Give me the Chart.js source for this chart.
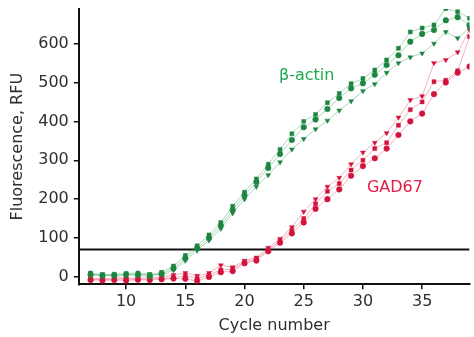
<!DOCTYPE html>
<html>
<head>
<meta charset="utf-8">
<script src="https://cdn.jsdelivr.net/npm/chart.js@4/dist/chart.umd.min.js"></script>
<style>
  html, body { margin: 0; padding: 0; background: #fff; }
  #wrap { width: 474px; height: 337px; position: relative; }
</style>
</head>
<body>
<div id="wrap"><canvas id="qpcr"></canvas></div>
<script>
// qPCR amplification curves: beta-actin vs GAD67, three replicates each

const cycles = [7, 8, 9, 10, 11, 12, 13, 14, 15, 16, 17, 18, 19, 20, 21, 22, 23,
                24, 25, 26, 27, 28, 29, 30, 31, 32, 33, 34, 35, 36, 37, 38, 39];

// beta-actin replicates (RFU)
const actinA = [10, 5, 7, 9, 10, 5, 12, 28, 55, 80, 108, 140, 182, 218, 252, 290, 328,
                368, 400, 418, 448, 472, 497, 510, 532, 558, 588, 630, 640, 648, 690, 682, 665];
const actinB = [6, 3, 4, 6, 5, 2, 8, 22, 48, 74, 100, 132, 172, 210, 244, 280, 316,
                352, 385, 405, 432, 460, 485, 498, 520, 545, 570, 605, 625, 635, 660, 668, 648];
const actinC = [3, 8, 2, 4, 7, 8, 5, 17, 42, 68, 94, 124, 164, 200, 232, 262, 295,
                328, 355, 380, 402, 428, 452, 478, 496, 525, 550, 565, 575, 600, 630, 614, 640];

// GAD67 replicates (RFU)
const gadA = [-3, -5, -2, -4, -2, -3, 0, 5, 10, 3, 10, 30, 25, 42, 50, 75, 98,
              128, 168, 200, 232, 255, 290, 320, 345, 370, 410, 455, 465, 550, 558, 578, 635];
const gadB = [-6, -7, -6, -5, -6, -5, -4, -2, 3, -4, 5, 18, 20, 38, 46, 70, 93,
              120, 150, 188, 220, 240, 275, 300, 330, 345, 390, 430, 450, 502, 506, 530, 618];
const gadC = [-8, -9, -8, -9, -7, -8, -6, -4, -5, -10, 0, 12, 15, 35, 42, 66, 88,
              112, 140, 175, 200, 225, 260, 285, 305, 330, 365, 400, 420, 470, 500, 525, 541];

const threshold = 70.5;
const xRange = [6, 39];
const yRange = [-19, 689];
const xTicks = [10, 15, 20, 25, 30, 35];
const yTicks = [0, 100, 200, 300, 400, 500, 600];

const GREEN = 'rgb(30, 132, 66)';
const GREEN_LINE = 'rgba(60, 170, 95, 0.45)';
const RED = 'rgb(210, 20, 60)';
const RED_LINE = 'rgba(230, 60, 100, 0.4)';

const FONT = '"DejaVu Sans", Verdana, sans-serif';
const TEXT = '#2e2e2e';

const toPoints = vals => cycles.map((c, i) => ({ x: c, y: vals[i] }));

function replicate(vals, color, lineColor, style) {
    return {
        data: toPoints(vals),
        borderColor: lineColor,
        borderWidth: 1,
        backgroundColor: color,
        pointBackgroundColor: color,
        pointBorderColor: color,
        pointBorderWidth: 0.5,
        pointRadius: 2.8,
        pointStyle: style,
        pointRotation: style === 'triangle' ? 180 : 0,
        tension: 0,
    };
}

// curve labels placed in data coordinates
const labelPlugin = {
    id: 'curveLabels',
    afterDatasetsDraw(chart) {
        const { ctx, scales: { x, y } } = chart;
        ctx.save();
        ctx.font = '16px ' + FONT;
        ctx.textAlign = 'center';
        ctx.textBaseline = 'middle';
        ctx.fillStyle = 'rgb(30, 168, 80)';
        ctx.fillText('β-actin', x.getPixelForValue(25.25), y.getPixelForValue(517));
        ctx.fillStyle = 'rgb(228, 28, 72)';
        ctx.fillText('GAD67', x.getPixelForValue(32.7), y.getPixelForValue(229));
        ctx.restore();
    }
};

const axisFont = { family: FONT, size: 16 };

// drop the label overhang padding so the plot fills the frame
const noOverhang = axis => {
    axis.paddingTop = 0;
    axis.paddingBottom = 0;
    axis.paddingLeft = 0;
    axis.paddingRight = 0;
};

new Chart(document.getElementById('qpcr'), {
    type: 'line',
    data: {
        datasets: [
            replicate(actinA, GREEN, GREEN_LINE, 'rect'),
            replicate(actinB, GREEN, GREEN_LINE, 'circle'),
            replicate(actinC, GREEN, GREEN_LINE, 'triangle'),
            replicate(gadA, RED, RED_LINE, 'triangle'),
            replicate(gadB, RED, RED_LINE, 'rect'),
            replicate(gadC, RED, RED_LINE, 'circle'),
            {
                data: [{ x: xRange[0], y: threshold }, { x: xRange[1], y: threshold }],
                borderColor: '#111',
                borderWidth: 2,
                pointRadius: 0,
            },
        ],
    },
    options: {
        responsive: true,
        maintainAspectRatio: false,
        animation: false,
        layout: { padding: { left: 8, right: 2, top: 9, bottom: 1.5 } },
        plugins: {
            legend: { display: false },
            tooltip: { enabled: false },
        },
        scales: {
            x: {
                type: 'linear',
                min: xRange[0],
                max: xRange[1],
                afterBuildTicks: axis => { axis.ticks = xTicks.map(v => ({ value: v })); },
                afterFit: noOverhang,
                grid: { drawOnChartArea: false, drawTicks: true, tickLength: 5, color: '#111', lineWidth: 1.5 },
                border: { display: true, color: '#111', width: 2 },
                ticks: { color: TEXT, font: axisFont, padding: 3.4, maxRotation: 0 },
                title: { display: true, text: 'Cycle number', color: TEXT, font: axisFont, padding: { top: 1, bottom: 0 } },
            },
            y: {
                type: 'linear',
                min: yRange[0],
                max: yRange[1],
                afterBuildTicks: axis => { axis.ticks = yTicks.map(v => ({ value: v })); },
                afterFit: noOverhang,
                grid: { drawOnChartArea: false, drawTicks: true, tickLength: 5, color: '#111', lineWidth: 1.5 },
                border: { display: true, color: '#111', width: 2 },
                ticks: { color: TEXT, font: axisFont, padding: 5 },
                title: { display: true, text: 'Fluorescence, RFU', color: TEXT, font: axisFont, padding: { top: 0, bottom: 6 } },
            },
        },
    },
    plugins: [labelPlugin],
});
</script>
</body>
</html>
